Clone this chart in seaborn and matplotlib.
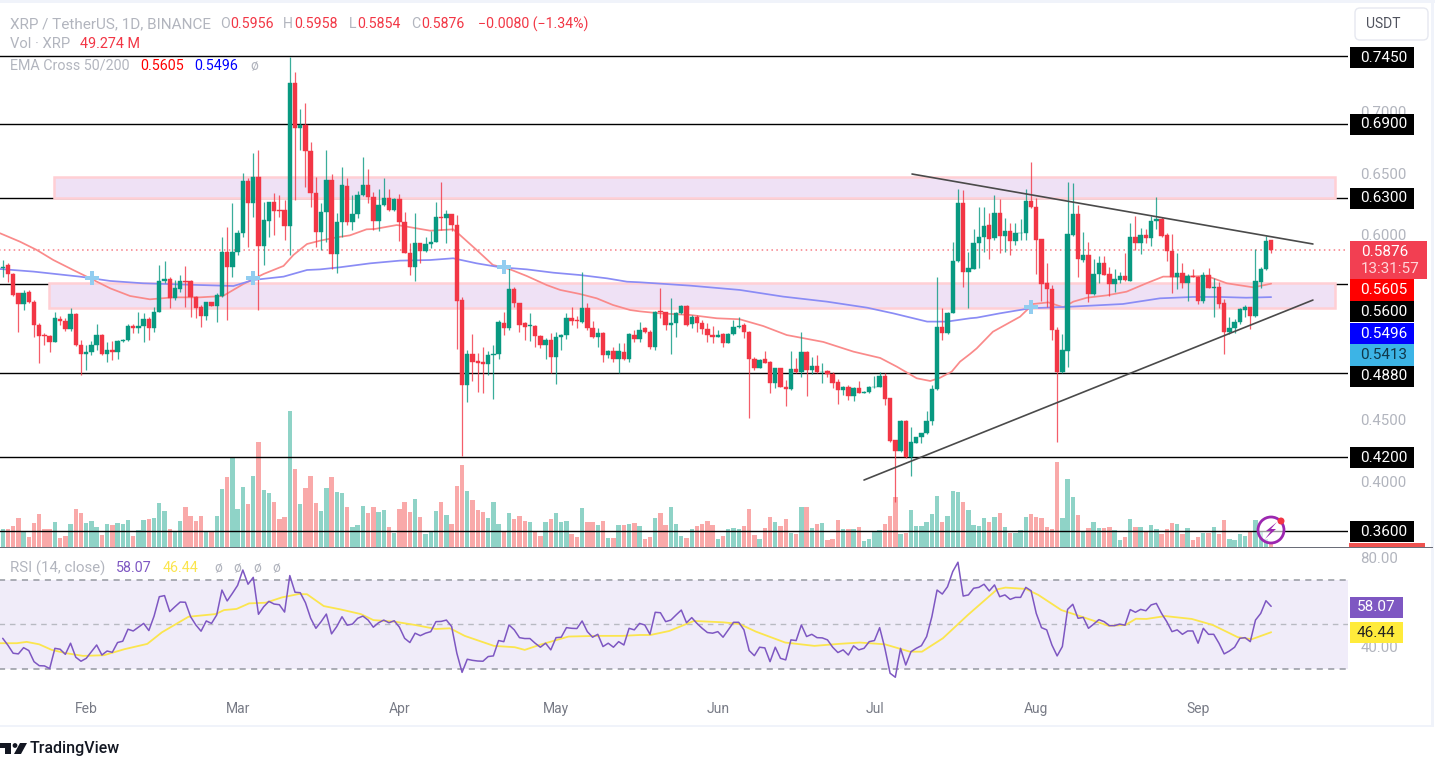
"""XRP / USDT Tageschart mit EMA Cross, Volumen und RSI."""

import matplotlib

matplotlib.use("Agg")

import matplotlib.pyplot as plt
import numpy as np
import pandas as pd
import seaborn as sns
from matplotlib.patches import Circle, FancyBboxPatch, Polygon, Rectangle
from matplotlib.transforms import IdentityTransform

opens = [
    .5730, .5757, .5684, .5527, .5440, .5537, .5459, .5270, .5188, .5183,
    .5134, .5321, .5305, .5234, .5356, .5107, .5031, .5053, .5107, .5188,
    .5031, .5067, .5048, .5140, .5148, .5264, .5243, .5264, .5316, .5243,
    .5378, .5627, .5640, .5486, .5562, .5627, .5627, .5494, .5413, .5343,
    .5454, .5427, .5505, .5865, .5743, .5865, .6014, .6441, .6263, .6474,
    .5911, .6117, .6265, .6203, .6203, .6076, .7231, .6872, .6893, .6685,
    .6338,
    .6027, .6189, .6446, .5846, .6108, .6400, .6108, .6168, .6325, .6406,
    .6311, .6116, .6244, .6303, .6203, .6292, .6108, .5857, .5737, .5932,
    .5870, .5927, .5946, .6143, .6135, .6168, .6084, .5472, .4782, .5034,
    .4977, .4966, .4950, .5029, .5034, .5288, .5242, .5559, .5445, .5283,
    .5261, .5264, .5180, .5107, .5148, .5007, .5175, .5186, .5323, .5307,
    .5294, .5405, .5248, .5169, .5207, .5023, .5058, .4991, .5050, .4996,
    .5188, .5153, .5242, .5215,
    .5093, .5380, .5372, .5269, .5283, .5364, .5424, .5277, .5337, .5288,
    .5240, .5186, .5172, .5194, .5126, .5194, .5250, .5269, .5215, .4991,
    .4923, .4991, .4969, .4801, .4918, .4769, .4747, .4909, .4888, .5053,
    .4904, .4937, .4885, .4893, .4872, .4804, .4742, .4763, .4693, .4755,
    .4720, .4725, .4763, .4769, .4855, .4674, .4336, .4249, .4493, .4195,
    .4314, .4357, .4390, .4493, .4747, .5256, .5202, .5369, .5789, .6257,
    .5697,
    .5727, .5932, .5986, .6081, .5973, .6176, .5992, .6030, .5949, .6014,
    .6016, .6276, .6225, .5965, .5608, .5559, .5229, .4885, .5061, .6000,
    .6170, .5797, .5840, .5521, .5681, .5775, .5683, .5602, .5635, .5667,
    .5629, .5986, .5938, .5997, .5978, .6111, .6130, .5997, .5870, .5662,
    .5692, .5613, .5667, .5662, .5467, .5673, .5572, .5575, .5445, .5210,
    .5242, .5291, .5391, .5413, .5342, .5621, .5721, .5956,
]
closes = [
    .5743, .5681, .5513, .5440, .5532, .5459, .5270, .5180, .5180, .5134,
    .5324, .5305, .5234, .5356, .5107, .5031, .5053, .5107, .5188, .5031,
    .5067, .5048, .5140, .5148, .5264, .5243, .5264, .5316, .5243, .5378,
    .5627, .5640, .5486, .5567, .5627, .5621, .5494, .5405, .5343, .5454,
    .5427, .5513, .5865, .5743, .5865, .6014, .6441, .6263, .6474, .5911,
    .6122, .6265, .6198, .6198, .6073, .7231, .6872, .6893, .6685, .6338,
    .6027,
    .6189, .6446, .5846, .6108, .6406, .6108, .6170, .6325, .6406, .6311,
    .6116, .6244, .6303, .6203, .6292, .6108, .5857, .5737, .5938, .5870,
    .5927, .5946, .6143, .6138, .6168, .6084, .5467, .4782, .5034, .4972,
    .4964, .4950, .5026, .5034, .5291, .5248, .5559, .5445, .5269, .5256,
    .5269, .5180, .5107, .5148, .5007, .5175, .5186, .5323, .5299, .5299,
    .5405, .5248, .5169, .5207, .5023, .5058, .4991, .5058, .4996, .5194,
    .5153, .5229, .5215, .5093,
    .5378, .5375, .5269, .5288, .5364, .5424, .5269, .5337, .5288, .5234,
    .5186, .5172, .5186, .5126, .5196, .5256, .5261, .5215, .4991, .4923,
    .4985, .4964, .4801, .4918, .4769, .4747, .4909, .4888, .5053, .4904,
    .4937, .4885, .4891, .4869, .4796, .4742, .4763, .4693, .4755, .4720,
    .4728, .4763, .4769, .4855, .4669, .4330, .4249, .4493, .4195, .4317,
    .4357, .4390, .4493, .4747, .5256, .5202, .5369, .5789, .6257, .5697,
    .5729,
    .5938, .5986, .6076, .5970, .6176, .5992, .6035, .5951, .6014, .6019,
    .6276, .6225, .5959, .5602, .5559, .5229, .4885, .5066, .6005, .6170,
    .5802, .5840, .5521, .5683, .5775, .5678, .5602, .5640, .5667, .5635,
    .5986, .5938, .5997, .5978, .6114, .6130, .5992, .5870, .5662, .5692,
    .5613, .5667, .5662, .5467, .5675, .5572, .5578, .5440, .5210, .5245,
    .5296, .5397, .5413, .5342, .5627, .5721, .5954, .5876,
]
highs = [
    .5797, .5770, .5689, .5532, .5554, .5554, .5473, .5283, .5202, .5188,
    .5372, .5345, .5324, .5405, .5364, .5148, .5107, .5142, .5275, .5194,
    .5134, .5140, .5148, .5153, .5278, .5278, .5372, .5364, .5337, .5418,
    .5757, .5792, .5662, .5635, .5676, .5749, .5635, .5505, .5432, .5459,
    .5459, .5527, .5987, .6068, .6257, .6041, .6501, .6460, .6663, .6690,
    .6271, .6271, .6338, .6325, .6284, .7448, .7326, .7020, .7069, .6758,
    .6474,
    .6257, .6690, .6495, .6176, .6549, .6460, .6325, .6360, .6630, .6533,
    .6352, .6373, .6460, .6371, .6298, .6330, .6189, .5932, .6176, .5938,
    .5986, .6032, .6265, .6433, .6203, .6173, .6162, .5499, .5066, .5194,
    .5039, .5088, .5061, .5107, .5310, .5378, .5729, .5581, .5450, .5296,
    .5364, .5269, .5188, .5161, .5202, .5215, .5194, .5364, .5413, .5345,
    .5702, .5445, .5305, .5242, .5212, .5066, .5088, .5126, .5126, .5202,
    .5229, .5296, .5256, .5229,
    .5383, .5567, .5378, .5486, .5378, .5432, .5432, .5351, .5351, .5310,
    .5283, .5261, .5229, .5202, .5207, .5310, .5332, .5283, .5221, .5012,
    .4991, .5058, .4975, .4923, .4923, .4823, .5058, .4999, .5215, .5058,
    .5007, .5026, .4958, .4904, .4891, .4828, .4774, .4782, .4763, .4815,
    .4736, .4774, .4855, .4891, .4877, .4680, .4340, .4498, .4498, .4444,
    .4363, .4395, .4574, .4782, .5662, .5405, .5375, .5946, .6373, .6365,
    .5865,
    .6046, .6230, .6230, .6176, .6325, .6290, .6135, .6100, .6095, .6127,
    .6373, .6590, .6298, .5970, .5775, .5594, .5256, .5194, .6433, .6425,
    .6244, .6022, .5940, .5802, .5829, .5829, .5743, .5721, .5702, .5851,
    .6095, .6154, .6054, .6046, .6157, .6311, .6149, .6014, .6008, .5851,
    .5775, .5683, .5721, .5667, .5702, .5729, .5654, .5621, .5478, .5337,
    .5318, .5405, .5432, .5418, .5884, .5743, .5992, .5958,
]
lows = [
    .5662, .5621, .5508, .5215, .5391, .5445, .5175, .4964, .5107, .5048,
    .5129, .5270, .5224, .5224, .5099, .4864, .4904, .5026, .5067, .5026,
    .4972, .4985, .4994, .5134, .5142, .5202, .5202, .5134, .5148, .5215,
    .5372, .5608, .5405, .5473, .5540, .5418, .5337, .5324, .5256, .5310,
    .5421, .5297, .5500, .5310, .5662, .5838, .5987, .5905, .6149, .5391,
    .5757, .5987, .6000, .6149, .5960, .5838, .6282, .6690, .6393, .6230,
    .5905,
    .5878, .5946, .5721, .5689, .5986, .6081, .6041, .6141, .6317, .6257,
    .6041, .6035, .6238, .6198, .6198, .5954, .5851, .5675, .5629, .5770,
    .5865, .5892, .5940, .6041, .5932, .6032, .5072, .4206, .4647, .4817,
    .4728, .4715, .4864, .4669, .4991, .5188, .5229, .5418, .5215, .5148,
    .5142, .5093, .5080, .4991, .4882, .4790, .5066, .5153, .5269, .5242,
    .5288, .5229, .5161, .5093, .4972, .4999, .4972, .4877, .4985, .4972,
    .5134, .5134, .5207, .5072,
    .5066, .5329, .5229, .5034, .5169, .5359, .5264, .5242, .5215, .5196,
    .5134, .5126, .5169, .5088, .5121, .5188, .5248, .5167, .4512, .4904,
    .4918, .4958, .4720, .4755, .4763, .4612, .4742, .4882, .4845, .4693,
    .4872, .4880, .4796, .4850, .4755, .4628, .4701, .4661, .4655, .4715,
    .4715, .4715, .4758, .4763, .4620, .4322, .3830, .4241, .4187, .4044,
    .4309, .4314, .4385, .4458, .4742, .5148, .5196, .5364, .5784, .5581,
    .5405,
    .5724, .5729, .5865, .5802, .5959, .5851, .5865, .5838, .5919, .5959,
    .5959, .6216, .5683, .5467, .5413, .5148, .4322, .4882, .4931, .5995,
    .5662, .5784, .5459, .5513, .5608, .5673, .5507, .5535, .5608, .5629,
    .5627, .5878, .5846, .5932, .5911, .6049, .5986, .5792, .5532, .5562,
    .5572, .5467, .5656, .5440, .5451, .5567, .5337, .5405, .5031, .5194,
    .5207, .5275, .5337, .5234, .5337, .5567, .5716, .5854,
]
# Volumen in Mio. XRP
volumes = [
    258, 258, 291, 404, 207, 136, 334, 461, 258, 258,
    348, 122, 150, 320, 536, 475, 334, 362, 277, 164,
    320, 305, 334, 320, 376, 150, 240, 376, 390, 404,
    620, 503, 258, 207, 362, 564, 432, 362, 432, 207,
    207, 432, 822, 992, 1264, 531, 851, 606, 1006, 1476,
    804, 761, 634, 390, 418, 1922, 1104, 606, 837, 1006,
    620, 503, 837, 992, 776, 761, 564, 277, 305, 578,
    475, 564, 494, 517, 277, 193, 531, 634, 494, 677,
    418, 179, 221, 503, 634, 446, 320, 865, 1151, 790,
    663, 522, 494, 404, 634, 320, 221, 475, 390, 432,
    362, 348, 207, 150, 348, 390, 475, 348, 362, 179,
    136, 550, 348, 348, 305, 362, 122, 122, 305, 305,
    320, 334, 291, 108, 136,
    404, 475, 305, 564, 320, 150, 122, 249, 291, 320,
    362, 305, 108, 150, 249, 263, 249, 291, 536, 164,
    108, 263, 418, 348, 291, 390, 193, 179, 564, 564,
    263, 320, 334, 94, 108, 376, 249, 249, 249, 277,
    80, 108, 221, 235, 320, 432, 705, 179, 193, 522,
    291, 291, 348, 461, 719, 348, 432, 790, 776, 634,
    522, 305, 291, 404, 348, 418, 475, 277, 193, 193,
    240, 418, 461, 423, 404, 277, 249, 1194, 404, 964,
    705, 446, 221, 263, 348, 263, 263, 277, 235, 94,
    136, 390, 277, 277, 221, 305, 249, 179, 249, 334,
    320, 179, 263, 94, 136, 193, 193, 277, 179, 376,
    108, 94, 179, 150, 207, 376, 221, 108, 49.3,
]
rsi_values = [
    43.7, 40.6, 37.0, 36.7, 39.5, 38.2, 33.2, 31.4, 31.3, 30.1,
    39.2, 38.8, 36.5, 41.5, 35.2, 33.4, 34.7, 37.7, 40.7, 36.2,
    38.0, 37.4, 41.8, 42.4, 47.8, 47.0, 48.7, 50.4, 47.2, 53.7,
    62.4, 62.9, 55.7, 57.9, 60.0, 59.9, 53.4, 49.7, 46.9, 51.5,
    50.4, 54.2, 65.4, 60.5, 63.9, 67.5, 74.4, 68.0, 71.1, 54.5,
    57.9, 60.3, 59.1, 58.8, 55.5, 71.9, 64.4, 64.2, 59.7, 52.7,
    48.2, 51.2, 54.6, 45.7, 49.0, 53.4, 49.6, 50.1, 52.7, 53.7,
    51.9, 48.7, 50.7, 51.9, 50.7, 51.6, 48.7, 43.7, 41.8, 46.0,
    44.9, 46.0, 46.7, 51.2, 51.3, 51.9, 49.0, 37.0, 28.4, 34.3,
    33.8, 33.5, 33.4, 35.5, 35.8, 42.7, 42.2, 49.7, 47.5, 44.0,
    43.6, 43.6, 41.5, 39.7, 41.5, 38.5, 44.0, 44.2, 48.5, 48.2,
    48.1, 51.5, 46.7, 44.2, 45.5, 40.0, 41.5, 39.7, 42.2, 40.7,
    48.2, 47.5, 50.4, 49.7, 45.5,
    55.4, 55.2, 51.2, 51.9, 54.2, 56.4, 50.7, 53.0, 50.4, 48.2,
    46.3, 46.0, 46.7, 44.2, 47.5, 50.9, 50.9, 47.5, 38.2, 35.9,
    39.7, 39.4, 33.2, 39.7, 34.7, 34.0, 43.0, 42.7, 49.7, 44.5,
    45.5, 44.0, 43.9, 43.0, 39.7, 37.3, 38.5, 36.2, 40.3, 38.5,
    39.2, 42.2, 42.7, 48.5, 39.2, 28.0, 26.2, 39.2, 31.7, 37.7,
    39.2, 40.4, 44.5, 53.4, 65.4, 63.6, 66.9, 73.7, 77.9, 62.7,
    63.2, 66.2, 66.6, 68.0, 65.0, 67.7, 62.4, 63.2, 61.2, 62.1,
    62.1, 66.6, 65.1, 54.9, 48.5, 47.5, 40.7, 35.8, 40.0, 56.7,
    59.0, 52.7, 53.1, 48.2, 50.1, 52.1, 51.2, 49.4, 49.4, 50.1,
    49.6, 56.6, 55.4, 56.7, 56.1, 58.7, 59.4, 54.9, 51.2, 46.7,
    47.5, 45.5, 47.0, 47.0, 41.5, 48.2, 45.5, 45.5, 41.5, 36.7,
    38.0, 39.7, 43.7, 44.0, 42.2, 51.9, 54.9, 60.6, 58.07,
]

ema50_days = [
    -0.5, 3.3, 6.5, 9.7, 13.5, 17.4, 20.6, 24.4, 28.2, 32.7, 37.8, 42.2, 46.1, 50, 53.8, 55.7, 58.3,
    60.8, 64, 66.5, 69.7, 71.3, 75.5, 76.7, 81.9, 86.3, 87.6, 90.8, 93.9, 97.2, 100.4, 104.2, 106.8,
    110.6, 113.8, 116.9, 120.2, 122.1, 125.9, 131.7, 136.8, 141.2, 145.7, 150.2, 157.2, 163, 168.1,
    171.3, 175.1, 177.7, 179.6, 181.8, 183.4, 185.3, 186.6, 189.7, 194.9, 197.4, 200.3, 203.2, 205.1,
    207.7, 211.5, 215.3, 219.1, 222.3, 226.1, 230.7, 234.5, 239.6, 243,
]
ema50_values = [
    .6014, .5946, .5879, .5797, .5716, .5635, .5567, .5505, .5478, .5494, .5494, .5505, .5602, .5684, .5749, .5838, .5927,
    .5954, .5981, .5997, .6046, .6049, .6081, .6073, .6035, .6046, .6000, .5878, .5757, .5721, .5667, .5594, .5554,
    .5521, .5486, .5432, .5391, .5380, .5364, .5351, .5324, .5316, .5261, .5188, .5132, .5053, .5002,
    .4931, .4837, .4815, .4842, .4891, .4972, .5034, .5080, .5215, .5337, .5440, .5453, .5413, .5459,
    .5491, .5510, .5540, .5608, .5662, .5662, .5667, .5608, .5575, .5605,
]
ema200_days = [
    -0.5, 5.9, 14.8, 20.6, 26.9, 37.8, 44.2, 48, 53.8, 58.3, 60.8, 64.6, 70.4, 76.1, 81.9, 86.3, 90.8,
    95.3, 100.4, 105.5, 110.6, 115.8, 119.6, 122.1, 131.7, 141.2, 149.5, 157.9, 165.6, 170.6, 177.1,
    180.9, 185.3, 186.6, 191, 196.8, 204.5, 214.6, 221.7, 228, 233.2, 238.2, 243,
]
ema200_values = [
    .5724, .5703, .5662, .5627, .5608, .5594, .5586, .5635, .5662, .5716, .5721, .5738, .5770, .5792, .5797, .5811, .5770,
    .5738, .5721, .5694, .5675, .5648, .5621, .5616, .5589, .5554, .5500, .5459, .5410, .5364, .5297,
    .5297, .5324, .5329, .5364, .5405, .5418, .5440, .5486, .5497, .5497, .5491, .5496,
]
cross_days = [17.1, 48, 96, 197]
cross_prices = [.565, .565, .574, .5416]

rsi_ma_days = [
    -0.5, 2.7, 4.6, 7.0, 9.4, 12.2, 15.4, 19.4, 23.3, 27.7, 30.5, 32.9, 35.6, 40.8, 42.4, 44.8, 47.2, 50.4,
    53.5, 56.7, 58.3, 61.5, 64.7, 68.6, 71, 75, 79, 83, 85.7, 88.5, 94.1, 98.1, 100, 102.8, 108.4, 114, 118.7,
    122.1, 124.1, 127.7, 132.4, 138, 141.2, 144.3, 149.9, 155.5, 160.2, 164.2, 169, 173.8, 176.1, 180.1,
    184.9, 190.5, 192.1, 196, 198.4, 202.8, 207.1, 211.9, 215.1, 217.1, 219.1, 222.7, 227.8, 231.8, 236.6,
    239.3, 243,
]
rsi_ma_values = [
    41.5, 41.5, 42.1, 41.0, 38.5, 37.0, 35.8, 36.1, 38.8, 41.2, 46.4, 49.7, 53.4, 54.6, 56.4, 56.9, 59.4, 59.7,
    62.1, 63.6, 63.5, 58.2, 56.7, 54.6, 51.9, 51.2, 49.7, 47.9, 48.2, 44.8, 40.3, 39.7, 38.5, 40.7, 44.5, 44.8, 44.8,
    45.2, 45.2, 47.0, 51.5, 50.9, 50.1, 46.7, 41.8, 40.3, 41.2, 41.8, 41.0, 37.7, 37.7, 43.7,
    54.2, 65.7, 66.5, 65.9, 63.2, 56.4, 53.1, 49.3, 49.7, 52.5, 52.4, 53.7, 52.4, 49.7, 44.2,
    43.3, 46.44,
]

month_labels = ["Feb", "Mar", "Apr", "May", "Jun", "Jul", "Aug", "Sep"]
month_days = [16, 45, 76, 106, 137, 167, 198, 229]
price_ticks = [0.40, 0.45, 0.60, 0.65, 0.70]
level_prices = [0.745, 0.69, 0.63, 0.56, 0.488, 0.42, 0.36]
# Zonen: Starttag, Endtag, untere und obere Grenze
zone_upper = (9.83, 255.2, 0.630, 0.647)
zone_lower = (8.87, 255.2, 0.5407, 0.561)
resist_days, resist_prices = [174.2, 251], [0.6495, 0.5927]
support_days, support_prices = [165, 251], [0.4011, 0.5472]
last_price = 0.5876

assert all(len(v) == 244 for v in (opens, closes, highs, lows, volumes, rsi_values))

W, H = 1435, 757
GREEN, RED = "#089981", "#f23645"
GREY = "#b2b5be"

sns.set_theme(style="white")
plt.rcParams["font.family"] = ["Roboto", "DejaVu Sans"]

days = np.arange(len(opens))
opens, closes, highs, lows = map(np.array, (opens, closes, highs, lows))
up = closes >= opens
colors = np.where(up, GREEN, RED)

fig = plt.figure(figsize=(W / 100, H / 100), dpi=100, facecolor="white")
# Volumen liegt im selben Bereich unter den Kerzen
rect_main = [0, 1 - 547 / H, 1348 / W, 507 / H]
ax_vol = fig.add_axes(rect_main)
ax = fig.add_axes(rect_main, sharex=ax_vol)
ax.patch.set_visible(False)
ax_rsi = fig.add_axes([0, 1 - 695 / H, 1348 / W, 147 / H], sharex=ax_vol)

vol_df = pd.DataFrame({"day": days, "vol": volumes, "up": up})
sns.barplot(
    data=vol_df,
    x="day",
    y="vol",
    hue="up",
    palette={True: "#8fd3c7", False: "#f9a9a9"},
    hue_order=[True, False],
    native_scale=True,
    dodge=False,
    width=0.84,
    errorbar=None,
    saturation=1,
    linewidth=0,
    legend=False,
    ax=ax_vol,
)
ax_vol.set_ylim(0, 507 * 14.1)
ax_vol.set_yticks([])

# Level und Zonen
ax.hlines(level_prices, -1, 300, color="black", lw=1.0, zorder=1.5)
for start, end, low, high in (zone_upper, zone_lower):
    ax.add_patch(
        Rectangle((start, low), end - start, high - low, facecolor="#efe1f5", edgecolor="#ffcfd4", lw=1.8, zorder=2)
    )
ax.hlines(last_price, -1, 300, color=RED, lw=1.1, linestyles=(0, (1, 2.2)), alpha=0.65, zorder=2.2)

# Kerzen
ax.vlines(days, lows, highs, color=colors, lw=0.9, alpha=0.8, zorder=3)
ax.bar(days, closes - opens, bottom=opens, width=0.84, color=colors, edgecolor=colors, linewidth=0.3, zorder=3.2)

sns.lineplot(x=ema50_days, y=ema50_values, color="#fa8a8a", lw=1.25, errorbar=None, sort=False, ax=ax, zorder=2.8)
sns.lineplot(x=ema200_days, y=ema200_values, color="#8a8cf5", lw=1.25, errorbar=None, sort=False, ax=ax, zorder=2.8)
sns.scatterplot(x=cross_days, y=cross_prices, marker="P", s=110, color="#92cdf0", linewidth=0, ax=ax, zorder=4)
sns.lineplot(x=resist_days, y=resist_prices, color="#4a4a4a", lw=1.2, errorbar=None, ax=ax, zorder=5)
sns.lineplot(x=support_days, y=support_prices, color="#4a4a4a", lw=1.2, errorbar=None, ax=ax, zorder=5)

ax.set_ylim(0.60 - 312 / 1232, 0.60 + 195 / 1232)
ax.set_yticks(price_ticks, [f"{t:.4f}" for t in price_ticks])
ax.yaxis.tick_right()
ax.tick_params(axis="y", length=0, pad=9, labelsize=10.8, labelcolor=GREY)
ax.tick_params(axis="x", length=0, labelbottom=False)
ax_vol.tick_params(axis="x", length=0, labelbottom=False)

# RSI
ax_rsi.axhspan(30, 70, color="#f0ecf9", lw=0, zorder=0)
ax_rsi.hlines([70, 30], -1, 300, color="#9598a1", lw=1.1, linestyles=(0, (4, 3.5)), zorder=1)
ax_rsi.hlines(50, -1, 300, color="#b8bac2", lw=1.0, linestyles=(0, (4, 3.5)), zorder=1)
sns.lineplot(x=rsi_ma_days, y=rsi_ma_values, color="#fbe54e", lw=1.3, errorbar=None, sort=False, ax=ax_rsi, zorder=2)
sns.lineplot(x=days, y=rsi_values, color="#7e57c2", lw=1.1, errorbar=None, ax=ax_rsi, zorder=3)
ax_rsi.set_ylim(50 - (695 - 624.3) / 2.225, 50 + (624.3 - 548) / 2.225)
ax_rsi.set_yticks([40, 80], ["40.00", "80.00"])
ax_rsi.yaxis.tick_right()
ax_rsi.tick_params(axis="y", length=0, pad=9, labelsize=10.8, labelcolor=GREY)
ax_rsi.set_xticks(month_days, month_labels)
ax_rsi.tick_params(axis="x", length=0, pad=5, labelsize=10, labelcolor="#787b86", labelbottom=True)

ax_vol.set_xlim((0 - 2.7) / 5.22, (1348 - 2.7) / 5.22)
for a in (ax, ax_vol, ax_rsi):
    sns.despine(ax=a, left=True, bottom=True, right=True, top=True)
    a.set_xlabel("")
    a.set_ylabel("")
    a.grid(False)


def px_rect(x1, y1, x2, y2, color, **kwargs):
    """Rechteck in Bildpixeln, y von oben gezaehlt."""
    fig.add_artist(
        Rectangle((x1, H - y2), x2 - x1, y2 - y1, facecolor=color, lw=0, transform=IdentityTransform(), **kwargs)
    )


def px_text(x, y, text, color=GREY, size=10, ha="left", **kwargs):
    fig.text(x / W, 1 - y / H, text, color=color, fontsize=size, ha=ha, va="center", **kwargs)


# Preis-Tags rechts
price_tags = [
    (47, 68, "0.7450", "black", "white"),
    (114, 135, "0.6900", "black", "white"),
    (188, 209, "0.6300", "black", "white"),
    (279, 301, "0.5605", "#ff0000", "white"),
    (301, 322, "0.5600", "black", "white"),
    (323, 344, "0.5496", "#0000ff", "white"),
    (344, 366, "0.5413", "#3cb4e6", "#10384a"),
    (366, 387, "0.4880", "black", "white"),
    (447, 468, "0.4200", "black", "white"),
    (521, 542, "0.3600", "black", "white"),
]
for y1, y2, label, bg, fg in price_tags:
    px_rect(1350, y1, 1414, y2, bg, zorder=6)
    px_text(1384, (y1 + y2) / 2, label, color=fg, size=11, ha="center", zorder=7)
px_rect(1350, 241, 1427, 279, "#f23f52", zorder=6)
px_text(1361, 252, "0.5876", color="white", size=11, zorder=7)
px_text(1361, 269, "13:31:57", color="#ffd5d9", size=11, zorder=7)
px_rect(1349, 543, 1425, 547, "#ef5350", zorder=6)
px_rect(1350, 597, 1403, 618, "#7e57c2", zorder=6)
px_text(1376, 607, "58.07", color="white", size=11, ha="center", zorder=7)
px_rect(1350, 622, 1403, 643, "#ffeb3b", zorder=6)
px_text(1376, 633, "46.44", color="#222222", size=11, ha="center", zorder=7)

# Legenden oben
px_text(10, 24, "XRP / TetherUS, 1D, BINANCE", size=11)
for x, s, c in [
    (220, "O", GREY), (230, "0.5956", RED), (283, "H", GREY), (294, "0.5958", RED),
    (349, "L", GREY), (357, "0.5854", RED), (411, "C", GREY), (421, "0.5876", RED),
]:
    px_text(x, 24, s, color=c, size=10.2)
px_text(478, 24, "−0.0080 (−1.34%)", color=RED, size=10.2)
px_text(10, 44, "Vol · XRP", size=10.6)
px_text(80, 44, "49.274 M", color=RED, size=10.4)
px_text(10, 66, "EMA Cross 50/200", size=10.3)
px_text(140, 66, "0.5605", color="#ff0000", size=10.3)
px_text(194, 66, "0.5496", color="#0000ff", size=10.3)
px_text(250, 66, "ø")
px_text(10, 568, "RSI (14, close)", size=10.8)
px_text(116, 568, "58.07", color="#7e57c2", size=10.3)
px_text(163, 568, "46.44", color="#fbe54e", size=10.3)
for x in (214, 233, 253, 272):
    px_text(x, 568, "ø")

# Rahmen, Schaltflaeche, Logo
px_rect(0, 0, W, 3, "#f0f3fa", zorder=1)
px_rect(0, 725, 1431, 727, "#f0f3fa", zorder=1)
px_rect(1431, 0, 1434, 727, "#f0f3fa", zorder=1)
px_rect(0, 546.5, 1433, 548, "#6a6d78", zorder=5)
fig.add_artist(
    FancyBboxPatch(
        (1358, H - 37), 67, 26, boxstyle="round,pad=3,rounding_size=5", facecolor="white",
        edgecolor="#e6e8f0", lw=1, transform=IdentityTransform(), zorder=6,
    )
)
px_text(1366, 24, "USDT", color="#50535e", size=10, zorder=7)

fig.add_artist(
    Circle((1271, H - 530), 13, facecolor=(1, 1, 1, 0.6), edgecolor="#9c27b0", lw=2, transform=IdentityTransform(), zorder=6)
)
fig.add_artist(
    Polygon(
        [(1277, H - 522), (1266, H - 531), (1271, H - 531), (1265, H - 539), (1276, H - 529), (1271, H - 529)],
        closed=True, facecolor="#9c27b0", lw=0, transform=IdentityTransform(), zorder=7,
    )
)
fig.add_artist(Circle((1281, H - 521), 3.5, facecolor=RED, lw=0, transform=IdentityTransform(), zorder=7))

px_rect(0, 743, 11, 748, "#131722", zorder=6)
px_rect(5, 748, 11, 754, "#131722", zorder=6)
fig.add_artist(Circle((15, H - 745.5), 2.4, facecolor="#131722", lw=0, transform=IdentityTransform(), zorder=6))
fig.add_artist(
    Polygon(
        [(20, H - 743), (27, H - 743), (21, H - 754), (14, H - 754)],
        closed=True, facecolor="#131722", lw=0, transform=IdentityTransform(), zorder=6,
    )
)
px_text(30, 748, "TradingView", color="#131722", size=11.5, fontweight="medium")

fig.savefig("out.png", dpi=100)
plt.close(fig)
